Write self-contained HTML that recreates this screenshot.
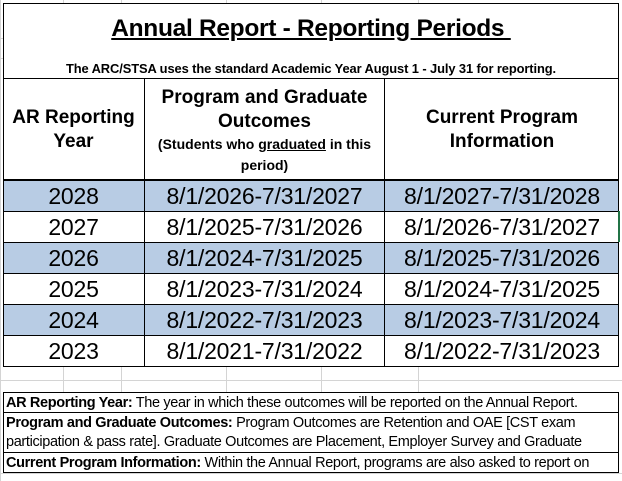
<!DOCTYPE html>
<html><head><style>
body{margin:0;width:622px;height:481px;background:#fff;position:relative;overflow:hidden;font-family:"Liberation Sans",sans-serif;color:#000}
.a{position:absolute}
.g{position:absolute;background:#d4d4d4}
.t{position:absolute;text-align:center;white-space:nowrap}
.d{position:absolute;font-size:23px;text-align:center;white-space:nowrap;line-height:31px;letter-spacing:-0.2px}
.n{position:absolute;left:6px;font-size:14.5px;white-space:nowrap;line-height:20px;letter-spacing:-0.35px}
</style></head><body>
<div class="g" style="left:63px;top:0;width:1px;height:4px"></div>
<div class="g" style="left:121px;top:0;width:1px;height:4px"></div>
<div class="g" style="left:226px;top:0;width:1px;height:4px"></div>
<div class="g" style="left:321px;top:0;width:1px;height:4px"></div>
<div class="g" style="left:418px;top:0;width:1px;height:4px"></div>
<div class="g" style="left:0;top:38px;width:3px;height:1px"></div>
<div class="g" style="left:0;top:58px;width:3px;height:1px"></div>
<div class="g" style="left:0;top:0;width:1px;height:481px"></div>
<div class="g" style="left:0;top:380px;width:622px;height:1px"></div>
<div class="g" style="left:63px;top:367px;width:1px;height:26px"></div>
<div class="g" style="left:121px;top:367px;width:1px;height:26px"></div>
<div class="g" style="left:226px;top:367px;width:1px;height:26px"></div>
<div class="g" style="left:321px;top:367px;width:1px;height:26px"></div>
<div class="g" style="left:418px;top:367px;width:1px;height:26px"></div>
<div class="g" style="left:0;top:473px;width:622px;height:1px"></div>
<div class="a" style="left:3px;top:181px;width:616px;height:30px;background:#b8cce4"></div>
<div class="a" style="left:3px;top:243px;width:616px;height:30px;background:#b8cce4"></div>
<div class="a" style="left:3px;top:305px;width:616px;height:30px;background:#b8cce4"></div>
<div class="a" style="left:3px;top:3px;width:614px;height:362px;border:1px solid #000"></div>
<div class="a" style="left:3px;top:78px;width:616px;height:1px;background:#000"></div>
<div class="a" style="left:3px;top:179px;width:616px;height:2px;background:#000"></div>
<div class="a" style="left:3px;top:211px;width:616px;height:1px;background:#000"></div>
<div class="a" style="left:3px;top:242px;width:616px;height:1px;background:#000"></div>
<div class="a" style="left:3px;top:273px;width:616px;height:1px;background:#000"></div>
<div class="a" style="left:3px;top:304px;width:616px;height:1px;background:#000"></div>
<div class="a" style="left:3px;top:335px;width:616px;height:1px;background:#000"></div>
<div class="a" style="left:144px;top:78px;width:1px;height:288px;background:#000"></div>
<div class="a" style="left:384px;top:78px;width:1px;height:288px;background:#000"></div>
<div class="a" style="left:618px;top:211px;width:2px;height:31px;background:#217346"></div>
<div class="t" style="left:3px;width:616px;top:15px;font-size:24.5px;font-weight:bold;text-decoration:underline;letter-spacing:-0.3px">Annual Report - Reporting Periods&nbsp;</div>
<div class="t" style="left:3px;width:616px;top:61px;font-size:12.9px;font-weight:bold;letter-spacing:-0.1px">The ARC/STSA uses the standard Academic Year August 1 - July 31 for reporting.</div>
<div class="t" style="left:3px;width:141px;top:106px;font-size:19px;font-weight:bold;line-height:24px">AR Reporting<br>Year</div>
<div class="t" style="left:145px;width:239px;top:86px;font-size:19px;font-weight:bold;line-height:24px">Program and Graduate<br>Outcomes</div>
<div class="t" style="left:145px;width:239px;top:134px;font-size:14px;font-weight:bold;line-height:21px">(Students who <u>graduated</u> in this<br>period)</div>
<div class="t" style="left:385px;width:234px;top:106px;font-size:19px;font-weight:bold;line-height:24px">Current Program<br>Information</div>
<div class="d" style="left:3px;width:141px;top:181px">2028</div>
<div class="d" style="left:3px;width:141px;top:212px">2027</div>
<div class="d" style="left:3px;width:141px;top:243px">2026</div>
<div class="d" style="left:3px;width:141px;top:274px">2025</div>
<div class="d" style="left:3px;width:141px;top:305px">2024</div>
<div class="d" style="left:3px;width:141px;top:336px">2023</div>
<div class="d" style="left:145px;width:239px;top:181px">8/1/2026-7/31/2027</div>
<div class="d" style="left:145px;width:239px;top:212px">8/1/2025-7/31/2026</div>
<div class="d" style="left:145px;width:239px;top:243px">8/1/2024-7/31/2025</div>
<div class="d" style="left:145px;width:239px;top:274px">8/1/2023-7/31/2024</div>
<div class="d" style="left:145px;width:239px;top:305px">8/1/2022-7/31/2023</div>
<div class="d" style="left:145px;width:239px;top:336px">8/1/2021-7/31/2022</div>
<div class="d" style="left:385px;width:234px;top:181px">8/1/2027-7/31/2028</div>
<div class="d" style="left:385px;width:234px;top:212px">8/1/2026-7/31/2027</div>
<div class="d" style="left:385px;width:234px;top:243px">8/1/2025-7/31/2026</div>
<div class="d" style="left:385px;width:234px;top:274px">8/1/2024-7/31/2025</div>
<div class="d" style="left:385px;width:234px;top:305px">8/1/2023-7/31/2024</div>
<div class="d" style="left:385px;width:234px;top:336px">8/1/2022-7/31/2023</div>
<div class="a" style="left:3px;top:392px;width:616px;height:1px;background:#000"></div>
<div class="a" style="left:3px;top:412px;width:616px;height:1px;background:#000"></div>
<div class="a" style="left:3px;top:452px;width:616px;height:1px;background:#000"></div>
<div class="a" style="left:3px;top:472px;width:616px;height:1px;background:#000"></div>
<div class="a" style="left:3px;top:392px;width:1px;height:81px;background:#000"></div>
<div class="a" style="left:618px;top:392px;width:1px;height:81px;background:#000"></div>
<div class="n" style="top:393px"><b>AR Reporting Year:</b> The year in which these outcomes will be reported on the Annual Report.</div>
<div class="n" style="top:413px"><b>Program and Graduate Outcomes:</b> Program Outcomes are Retention and OAE [CST exam</div>
<div class="n" style="top:432px">participation &amp; pass rate]. Graduate Outcomes are Placement, Employer Survey and Graduate</div>
<div class="n" style="top:453px"><b>Current Program Information:</b> Within the Annual Report, programs are also asked to report on</div>
</body></html>
